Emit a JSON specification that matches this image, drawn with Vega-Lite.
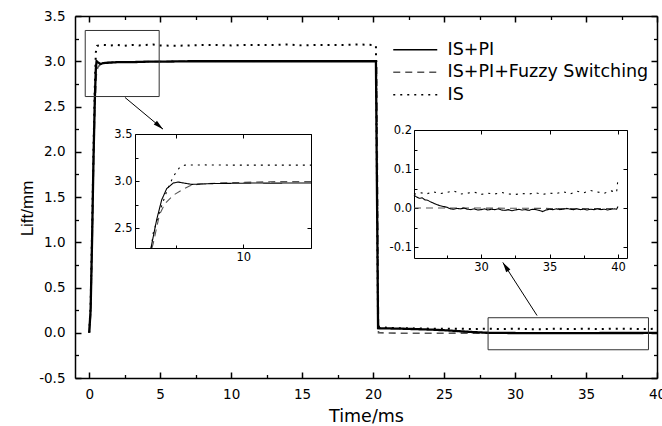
{
  "$schema": "https://vega.github.io/schema/vega-lite/v6.json",
  "width": 582,
  "height": 362,
  "autosize": {"type": "none"},
  "padding": {"left": 75, "top": 16, "right": 5, "bottom": 48},
  "background": "white",
  "config": {
    "view": {"stroke": null},
    "axis": {"grid": false, "domainColor": "#000", "tickColor": "#000", "labelColor": "#000", "titleColor": "#000", "labelFont": "DejaVu Sans", "titleFont": "DejaVu Sans", "titleFontWeight": "normal", "labelFlush": false, "labelOverlap": false}
  },
  "datasets": {
    "main": [
      {"t": 0, "lift": 0, "series": "IS"}, {"t": 0.1, "lift": 0.3, "series": "IS"}, {"t": 0.2, "lift": 1.1, "series": "IS"}, {"t": 0.3, "lift": 2.0, "series": "IS"}, {"t": 0.4, "lift": 2.75, "series": "IS"}, {"t": 0.47, "lift": 3.1, "series": "IS"}, {"t": 0.55, "lift": 3.17, "series": "IS"}, {"t": 1, "lift": 3.18, "series": "IS"}, {"t": 1.5, "lift": 3.175, "series": "IS"}, {"t": 2, "lift": 3.18, "series": "IS"}, {"t": 2.5, "lift": 3.17, "series": "IS"}, {"t": 3, "lift": 3.18, "series": "IS"}, {"t": 3.5, "lift": 3.175, "series": "IS"}, {"t": 4, "lift": 3.18, "series": "IS"}, {"t": 4.5, "lift": 3.185, "series": "IS"}, {"t": 5, "lift": 3.175, "series": "IS"}, {"t": 6, "lift": 3.17, "series": "IS"}, {"t": 7, "lift": 3.175, "series": "IS"}, {"t": 8, "lift": 3.18, "series": "IS"}, {"t": 9, "lift": 3.18, "series": "IS"}, {"t": 10, "lift": 3.175, "series": "IS"}, {"t": 11, "lift": 3.18, "series": "IS"}, {"t": 12, "lift": 3.18, "series": "IS"}, {"t": 13, "lift": 3.18, "series": "IS"}, {"t": 14, "lift": 3.185, "series": "IS"}, {"t": 15, "lift": 3.175, "series": "IS"}, {"t": 16, "lift": 3.18, "series": "IS"}, {"t": 17, "lift": 3.18, "series": "IS"}, {"t": 18, "lift": 3.18, "series": "IS"}, {"t": 19, "lift": 3.185, "series": "IS"}, {"t": 20, "lift": 3.18, "series": "IS"}, {"t": 20.2, "lift": 3.17, "series": "IS"}, {"t": 20.35, "lift": 0.07, "series": "IS"}, {"t": 21, "lift": 0.055, "series": "IS"}, {"t": 22, "lift": 0.05, "series": "IS"}, {"t": 23, "lift": 0.048, "series": "IS"}, {"t": 24, "lift": 0.045, "series": "IS"}, {"t": 25, "lift": 0.045, "series": "IS"}, {"t": 26, "lift": 0.045, "series": "IS"}, {"t": 27, "lift": 0.04, "series": "IS"}, {"t": 28, "lift": 0.045, "series": "IS"}, {"t": 29, "lift": 0.04, "series": "IS"}, {"t": 30, "lift": 0.045, "series": "IS"}, {"t": 31, "lift": 0.04, "series": "IS"}, {"t": 32, "lift": 0.04, "series": "IS"}, {"t": 33, "lift": 0.045, "series": "IS"}, {"t": 34, "lift": 0.04, "series": "IS"}, {"t": 35, "lift": 0.045, "series": "IS"}, {"t": 36, "lift": 0.04, "series": "IS"}, {"t": 37, "lift": 0.045, "series": "IS"}, {"t": 38, "lift": 0.045, "series": "IS"}, {"t": 39, "lift": 0.04, "series": "IS"}, {"t": 40, "lift": 0.045, "series": "IS"},
      {"t": 0, "lift": 0, "series": "IS+PI+Fuzzy Switching"}, {"t": 0.1, "lift": 0.2, "series": "IS+PI+Fuzzy Switching"}, {"t": 0.2, "lift": 0.9, "series": "IS+PI+Fuzzy Switching"}, {"t": 0.3, "lift": 1.8, "series": "IS+PI+Fuzzy Switching"}, {"t": 0.4, "lift": 2.5, "series": "IS+PI+Fuzzy Switching"}, {"t": 0.5, "lift": 2.85, "series": "IS+PI+Fuzzy Switching"}, {"t": 0.6, "lift": 2.93, "series": "IS+PI+Fuzzy Switching"}, {"t": 0.8, "lift": 2.97, "series": "IS+PI+Fuzzy Switching"}, {"t": 1.2, "lift": 2.985, "series": "IS+PI+Fuzzy Switching"}, {"t": 2, "lift": 2.99, "series": "IS+PI+Fuzzy Switching"}, {"t": 4, "lift": 2.995, "series": "IS+PI+Fuzzy Switching"}, {"t": 6, "lift": 3.0, "series": "IS+PI+Fuzzy Switching"}, {"t": 10, "lift": 3.0, "series": "IS+PI+Fuzzy Switching"}, {"t": 14, "lift": 3.0, "series": "IS+PI+Fuzzy Switching"}, {"t": 18, "lift": 3.0, "series": "IS+PI+Fuzzy Switching"}, {"t": 20.25, "lift": 3.0, "series": "IS+PI+Fuzzy Switching"}, {"t": 20.38, "lift": 0.0, "series": "IS+PI+Fuzzy Switching"}, {"t": 22, "lift": -0.005, "series": "IS+PI+Fuzzy Switching"}, {"t": 25, "lift": -0.005, "series": "IS+PI+Fuzzy Switching"}, {"t": 30, "lift": -0.003, "series": "IS+PI+Fuzzy Switching"}, {"t": 35, "lift": -0.003, "series": "IS+PI+Fuzzy Switching"}, {"t": 40, "lift": -0.003, "series": "IS+PI+Fuzzy Switching"},
      {"t": 0, "lift": 0, "series": "IS+PI"}, {"t": 0.1, "lift": 0.25, "series": "IS+PI"}, {"t": 0.2, "lift": 1.0, "series": "IS+PI"}, {"t": 0.3, "lift": 1.9, "series": "IS+PI"}, {"t": 0.4, "lift": 2.6, "series": "IS+PI"}, {"t": 0.47, "lift": 2.92, "series": "IS+PI"}, {"t": 0.52, "lift": 3.0, "series": "IS+PI"}, {"t": 0.6, "lift": 2.99, "series": "IS+PI"}, {"t": 0.8, "lift": 2.97, "series": "IS+PI"}, {"t": 1, "lift": 2.98, "series": "IS+PI"}, {"t": 1.5, "lift": 2.985, "series": "IS+PI"}, {"t": 2, "lift": 2.99, "series": "IS+PI"}, {"t": 3, "lift": 2.99, "series": "IS+PI"}, {"t": 4, "lift": 2.995, "series": "IS+PI"}, {"t": 5, "lift": 2.995, "series": "IS+PI"}, {"t": 7, "lift": 3.0, "series": "IS+PI"}, {"t": 9, "lift": 3.0, "series": "IS+PI"}, {"t": 11, "lift": 3.0, "series": "IS+PI"}, {"t": 13, "lift": 3.0, "series": "IS+PI"}, {"t": 15, "lift": 3.0, "series": "IS+PI"}, {"t": 17, "lift": 3.0, "series": "IS+PI"}, {"t": 19, "lift": 3.0, "series": "IS+PI"}, {"t": 20.2, "lift": 3.0, "series": "IS+PI"}, {"t": 20.35, "lift": 0.05, "series": "IS+PI"}, {"t": 21, "lift": 0.048, "series": "IS+PI"}, {"t": 22, "lift": 0.045, "series": "IS+PI"}, {"t": 23, "lift": 0.04, "series": "IS+PI"}, {"t": 24, "lift": 0.035, "series": "IS+PI"}, {"t": 25, "lift": 0.028, "series": "IS+PI"}, {"t": 26, "lift": 0.018, "series": "IS+PI"}, {"t": 27, "lift": 0.008, "series": "IS+PI"}, {"t": 28, "lift": 0.0, "series": "IS+PI"}, {"t": 29, "lift": -0.002, "series": "IS+PI"}, {"t": 30, "lift": -0.003, "series": "IS+PI"}, {"t": 32, "lift": -0.005, "series": "IS+PI"}, {"t": 34, "lift": -0.004, "series": "IS+PI"}, {"t": 36, "lift": -0.003, "series": "IS+PI"}, {"t": 38, "lift": -0.003, "series": "IS+PI"}, {"t": 40, "lift": -0.002, "series": "IS+PI"}
    ],
    "inset1": [
      {"t": 3.2, "v": 2.29, "series": "IS"}, {"t": 3.35, "v": 2.45, "series": "IS"}, {"t": 3.85, "v": 2.69, "series": "IS"}, {"t": 4.34, "v": 2.89, "series": "IS"}, {"t": 4.83, "v": 3.05, "series": "IS"}, {"t": 5.32, "v": 3.15, "series": "IS"}, {"t": 5.69, "v": 3.17, "series": "IS"}, {"t": 7, "v": 3.172, "series": "IS"}, {"t": 9, "v": 3.17, "series": "IS"}, {"t": 11, "v": 3.17, "series": "IS"}, {"t": 13, "v": 3.17, "series": "IS"}, {"t": 15, "v": 3.17, "series": "IS"},
      {"t": 3.25, "v": 2.29, "series": "IS+PI+Fuzzy Switching"}, {"t": 3.35, "v": 2.34, "series": "IS+PI+Fuzzy Switching"}, {"t": 3.8, "v": 2.64, "series": "IS+PI+Fuzzy Switching"}, {"t": 4.2, "v": 2.76, "series": "IS+PI+Fuzzy Switching"}, {"t": 4.83, "v": 2.85, "series": "IS+PI+Fuzzy Switching"}, {"t": 5.45, "v": 2.905, "series": "IS+PI+Fuzzy Switching"}, {"t": 6.06, "v": 2.95, "series": "IS+PI+Fuzzy Switching"}, {"t": 6.8, "v": 2.97, "series": "IS+PI+Fuzzy Switching"}, {"t": 8.28, "v": 2.98, "series": "IS+PI+Fuzzy Switching"}, {"t": 10.7, "v": 2.99, "series": "IS+PI+Fuzzy Switching"}, {"t": 12.5, "v": 2.995, "series": "IS+PI+Fuzzy Switching"}, {"t": 15, "v": 2.995, "series": "IS+PI+Fuzzy Switching"},
      {"t": 3.18, "v": 2.29, "series": "IS+PI"}, {"t": 3.6, "v": 2.59, "series": "IS+PI"}, {"t": 3.97, "v": 2.8, "series": "IS+PI"}, {"t": 4.34, "v": 2.92, "series": "IS+PI"}, {"t": 4.83, "v": 2.98, "series": "IS+PI"}, {"t": 5.2, "v": 2.99, "series": "IS+PI"}, {"t": 5.69, "v": 2.977, "series": "IS+PI"}, {"t": 6.19, "v": 2.965, "series": "IS+PI"}, {"t": 7.05, "v": 2.97, "series": "IS+PI"}, {"t": 8, "v": 2.975, "series": "IS+PI"}, {"t": 9.5, "v": 2.977, "series": "IS+PI"}, {"t": 11, "v": 2.98, "series": "IS+PI"}, {"t": 12, "v": 2.978, "series": "IS+PI"}, {"t": 13.5, "v": 2.98, "series": "IS+PI"}, {"t": 15, "v": 2.98, "series": "IS+PI"}
    ],
    "inset2": [
      {"t": 25.1, "v": 0.035, "series": "IS"}, {"t": 25.5, "v": 0.04, "series": "IS"}, {"t": 26.0, "v": 0.036, "series": "IS"}, {"t": 26.5, "v": 0.042, "series": "IS"}, {"t": 27.0, "v": 0.037, "series": "IS"}, {"t": 27.5, "v": 0.04, "series": "IS"}, {"t": 28.0, "v": 0.044, "series": "IS"}, {"t": 28.5, "v": 0.036, "series": "IS"}, {"t": 29.0, "v": 0.038, "series": "IS"}, {"t": 29.5, "v": 0.041, "series": "IS"}, {"t": 30.0, "v": 0.035, "series": "IS"}, {"t": 30.5, "v": 0.038, "series": "IS"}, {"t": 31.0, "v": 0.036, "series": "IS"}, {"t": 31.5, "v": 0.04, "series": "IS"}, {"t": 32.0, "v": 0.036, "series": "IS"}, {"t": 32.5, "v": 0.035, "series": "IS"}, {"t": 33.0, "v": 0.037, "series": "IS"}, {"t": 33.5, "v": 0.036, "series": "IS"}, {"t": 34.0, "v": 0.039, "series": "IS"}, {"t": 34.5, "v": 0.035, "series": "IS"}, {"t": 35.0, "v": 0.038, "series": "IS"}, {"t": 35.5, "v": 0.037, "series": "IS"}, {"t": 36.0, "v": 0.042, "series": "IS"}, {"t": 36.5, "v": 0.036, "series": "IS"}, {"t": 37.0, "v": 0.043, "series": "IS"}, {"t": 37.5, "v": 0.039, "series": "IS"}, {"t": 38.0, "v": 0.045, "series": "IS"}, {"t": 38.5, "v": 0.041, "series": "IS"}, {"t": 39.0, "v": 0.038, "series": "IS"}, {"t": 39.5, "v": 0.044, "series": "IS"}, {"t": 39.9, "v": 0.04, "series": "IS"}, {"t": 40.0, "v": 0.075, "series": "IS"},
      {"t": 25.1, "v": 0.0, "series": "IS+PI+Fuzzy Switching"}, {"t": 30, "v": 0.0, "series": "IS+PI+Fuzzy Switching"}, {"t": 35, "v": -0.001, "series": "IS+PI+Fuzzy Switching"}, {"t": 40, "v": -0.001, "series": "IS+PI+Fuzzy Switching"},
      {"t": 25.1, "v": 0.033, "series": "IS+PI"}, {"t": 25.3, "v": 0.028, "series": "IS+PI"}, {"t": 25.5, "v": 0.025, "series": "IS+PI"}, {"t": 25.7, "v": 0.026, "series": "IS+PI"}, {"t": 25.9, "v": 0.021, "series": "IS+PI"}, {"t": 26.1, "v": 0.02, "series": "IS+PI"}, {"t": 26.3, "v": 0.016, "series": "IS+PI"}, {"t": 26.5, "v": 0.013, "series": "IS+PI"}, {"t": 26.75, "v": 0.009, "series": "IS+PI"}, {"t": 27.0, "v": 0.006, "series": "IS+PI"}, {"t": 27.25, "v": 0.004, "series": "IS+PI"}, {"t": 27.5, "v": 0.002, "series": "IS+PI"}, {"t": 27.75, "v": -0.002, "series": "IS+PI"}, {"t": 28.0, "v": -0.003, "series": "IS+PI"}, {"t": 28.25, "v": -0.001, "series": "IS+PI"}, {"t": 28.5, "v": -0.002, "series": "IS+PI"}, {"t": 28.75, "v": 0.0, "series": "IS+PI"}, {"t": 29.0, "v": -0.003, "series": "IS+PI"}, {"t": 29.25, "v": -0.004, "series": "IS+PI"}, {"t": 29.5, "v": -0.002, "series": "IS+PI"}, {"t": 29.75, "v": -0.005, "series": "IS+PI"}, {"t": 30.0, "v": -0.004, "series": "IS+PI"}, {"t": 30.25, "v": -0.002, "series": "IS+PI"}, {"t": 30.5, "v": -0.005, "series": "IS+PI"}, {"t": 30.75, "v": -0.003, "series": "IS+PI"}, {"t": 31.0, "v": -0.004, "series": "IS+PI"}, {"t": 31.25, "v": -0.002, "series": "IS+PI"}, {"t": 31.5, "v": -0.005, "series": "IS+PI"}, {"t": 31.75, "v": -0.006, "series": "IS+PI"}, {"t": 32.0, "v": -0.004, "series": "IS+PI"}, {"t": 32.25, "v": -0.007, "series": "IS+PI"}, {"t": 32.5, "v": -0.005, "series": "IS+PI"}, {"t": 32.75, "v": -0.003, "series": "IS+PI"}, {"t": 33.0, "v": -0.005, "series": "IS+PI"}, {"t": 33.25, "v": -0.004, "series": "IS+PI"}, {"t": 33.5, "v": -0.006, "series": "IS+PI"}, {"t": 33.75, "v": -0.003, "series": "IS+PI"}, {"t": 34.0, "v": -0.004, "series": "IS+PI"}, {"t": 34.25, "v": -0.006, "series": "IS+PI"}, {"t": 34.5, "v": -0.009, "series": "IS+PI"}, {"t": 34.75, "v": -0.005, "series": "IS+PI"}, {"t": 35.0, "v": -0.003, "series": "IS+PI"}, {"t": 35.25, "v": -0.004, "series": "IS+PI"}, {"t": 35.5, "v": -0.002, "series": "IS+PI"}, {"t": 35.75, "v": -0.004, "series": "IS+PI"}, {"t": 36.0, "v": -0.003, "series": "IS+PI"}, {"t": 36.25, "v": -0.001, "series": "IS+PI"}, {"t": 36.5, "v": -0.003, "series": "IS+PI"}, {"t": 36.75, "v": -0.004, "series": "IS+PI"}, {"t": 37.0, "v": -0.002, "series": "IS+PI"}, {"t": 37.25, "v": -0.004, "series": "IS+PI"}, {"t": 37.5, "v": -0.003, "series": "IS+PI"}, {"t": 37.75, "v": -0.005, "series": "IS+PI"}, {"t": 38.0, "v": -0.003, "series": "IS+PI"}, {"t": 38.25, "v": -0.004, "series": "IS+PI"}, {"t": 38.5, "v": -0.002, "series": "IS+PI"}, {"t": 38.75, "v": -0.004, "series": "IS+PI"}, {"t": 39.0, "v": -0.003, "series": "IS+PI"}, {"t": 39.25, "v": -0.005, "series": "IS+PI"}, {"t": 39.5, "v": -0.003, "series": "IS+PI"}, {"t": 39.75, "v": -0.002, "series": "IS+PI"}, {"t": 39.9, "v": -0.003, "series": "IS+PI"}, {"t": 40.0, "v": 0.004, "series": "IS+PI"}
    ],
    "boxes": [
      {"t1": -0.28, "t2": 4.93, "v1": 2.61, "v2": 3.34},
      {"t1": 28.1, "t2": 39.4, "v1": -0.188, "v2": 0.166}
    ],
    "arrows": [
      {"name": "a1", "t0": 2.52, "v0": 2.6, "t1": 5.2, "v1": 2.25},
      {"name": "a2", "t0": 31.55, "v0": 0.19, "t1": 29.14, "v1": 0.777}
    ]
  },
  "resolve": {"scale": {"x": "independent", "y": "independent"}},
  "layer": [
    {
      "resolve": {"axis": {"x": "independent", "y": "independent"}},
      "layer": [
        {
          "data": {"name": "main"},
          "transform": [{"filter": "datum.series === 'IS'"}],
          "mark": {"type": "line", "strokeWidth": 2},
          "encoding": {
            "x": {"field": "t", "type": "quantitative", "scale": {"domain": [-1, 40], "nice": false, "zero": false},
                  "axis": {"orient": "bottom", "values": [0, 5, 10, 15, 20, 25, 30, 35, 40], "tickSize": -6, "tickWidth": 1.5, "domainWidth": 1.5, "labelPadding": 15, "labelFontSize": 13.5, "title": "Time/ms", "titleFontSize": 17.5, "titleX": 291, "titleY": 43, "titleBaseline": "alphabetic"}},
            "y": {"field": "lift", "type": "quantitative", "scale": {"domain": [-0.5, 3.5], "nice": false, "zero": false},
                  "axis": {"orient": "left", "values": [-0.5, 0, 0.5, 1, 1.5, 2, 2.5, 3, 3.5], "tickSize": -6, "tickWidth": 1.5, "domainWidth": 1.5, "labelPadding": 16, "labelFontSize": 13.5, "labelExpr": "datum.value < 0 ? '-' + format(-datum.value, '.1f') : format(datum.value, '.1f')", "title": "Lift/mm", "titleFont": "Liberation Sans", "titleFontSize": 17, "titleX": -43, "titleY": 192, "titleAngle": -90, "titleBaseline": "alphabetic"}},
            "color": {"field": "series", "type": "nominal", "scale": {"domain": ["IS+PI", "IS+PI+Fuzzy Switching", "IS"], "range": ["#000000", "#555555", "#000000"]},
                      "legend": {"title": null, "orient": "none", "legendX": 331.5, "legendY": 25, "padding": 0, "symbolType": "M-4,0H4", "symbolSize": 121, "symbolStrokeWidth": 1.6, "labelFontSize": 17.5, "labelFont": "DejaVu Sans", "labelColor": "#000", "labelOffset": 23.5, "labelLimit": 0, "rowPadding": 3.5}},
            "strokeDash": {"field": "series", "type": "nominal", "scale": {"domain": ["IS+PI", "IS+PI+Fuzzy Switching", "IS"], "range": [[1, 0], [7, 5], [2, 5]]},
                      "legend": {"title": null, "orient": "none", "legendX": 331.5, "legendY": 25, "padding": 0, "symbolType": "M-4,0H4", "symbolSize": 121, "symbolStrokeWidth": 1.6, "labelFontSize": 17.5, "labelFont": "DejaVu Sans", "labelColor": "#000", "labelOffset": 23.5, "labelLimit": 0, "rowPadding": 3.5}}
          }
        },
        {
          "data": {"name": "main"},
          "transform": [{"filter": "datum.series === 'IS+PI+Fuzzy Switching'"}],
          "mark": {"type": "line", "strokeWidth": 1.6},
          "encoding": {
            "x": {"field": "t", "type": "quantitative", "scale": {"domain": [-1, 40], "nice": false, "zero": false}, "axis": null},
            "y": {"field": "lift", "type": "quantitative", "scale": {"domain": [-0.5, 3.5], "nice": false, "zero": false}, "axis": null},
            "color": {"field": "series", "type": "nominal", "scale": {"domain": ["IS+PI", "IS+PI+Fuzzy Switching", "IS"], "range": ["#000000", "#555555", "#000000"]}, "legend": null},
            "strokeDash": {"field": "series", "type": "nominal", "scale": {"domain": ["IS+PI", "IS+PI+Fuzzy Switching", "IS"], "range": [[1, 0], [7, 5], [2, 5]]}, "legend": null}
          }
        },
        {
          "data": {"name": "main"},
          "transform": [{"filter": "datum.series === 'IS+PI'"}],
          "mark": {"type": "line", "strokeWidth": 2.3},
          "encoding": {
            "x": {"field": "t", "type": "quantitative", "scale": {"domain": [-1, 40], "nice": false, "zero": false}, "axis": null},
            "y": {"field": "lift", "type": "quantitative", "scale": {"domain": [-0.5, 3.5], "nice": false, "zero": false}, "axis": null},
            "color": {"field": "series", "type": "nominal", "scale": {"domain": ["IS+PI", "IS+PI+Fuzzy Switching", "IS"], "range": ["#000000", "#555555", "#000000"]}, "legend": null},
            "strokeDash": {"field": "series", "type": "nominal", "scale": {"domain": ["IS+PI", "IS+PI+Fuzzy Switching", "IS"], "range": [[1, 0], [7, 5], [2, 5]]}, "legend": null}
          }
        },
        {
          "data": {"name": "boxes"},
          "mark": {"type": "rect", "fillOpacity": 0, "stroke": "#333", "strokeWidth": 1},
          "encoding": {
            "x": {"field": "t1", "type": "quantitative", "scale": {"domain": [-1, 40], "nice": false, "zero": false}, "axis": null},
            "x2": {"field": "t2"},
            "y": {"field": "v1", "type": "quantitative", "scale": {"domain": [-0.5, 3.5], "nice": false, "zero": false}, "axis": null},
            "y2": {"field": "v2"}
          }
        },
        {
          "data": {"name": "arrows"},
          "mark": {"type": "rule", "color": "#000", "strokeWidth": 1},
          "encoding": {
            "x": {"field": "t0", "type": "quantitative", "scale": {"domain": [-1, 40], "nice": false, "zero": false}, "axis": null},
            "x2": {"field": "t1"},
            "y": {"field": "v0", "type": "quantitative", "scale": {"domain": [-0.5, 3.5], "nice": false, "zero": false}, "axis": null},
            "y2": {"field": "v1"}
          }
        },
        {
          "data": {"name": "arrows"},
          "transform": [{"filter": "datum.name === 'a1'"}],
          "mark": {"type": "point", "shape": "M0,0L0.5,2L-0.5,2Z", "angle": 130, "size": 100, "filled": true, "color": "#000", "opacity": 1},
          "encoding": {
            "x": {"field": "t1", "type": "quantitative", "scale": {"domain": [-1, 40], "nice": false, "zero": false}, "axis": null},
            "y": {"field": "v1", "type": "quantitative", "scale": {"domain": [-0.5, 3.5], "nice": false, "zero": false}, "axis": null}
          }
        },
        {
          "data": {"name": "arrows"},
          "transform": [{"filter": "datum.name === 'a2'"}],
          "mark": {"type": "point", "shape": "M0,0L0.5,2L-0.5,2Z", "angle": 327, "size": 100, "filled": true, "color": "#000", "opacity": 1},
          "encoding": {
            "x": {"field": "t1", "type": "quantitative", "scale": {"domain": [-1, 40], "nice": false, "zero": false}, "axis": null},
            "y": {"field": "v1", "type": "quantitative", "scale": {"domain": [-0.5, 3.5], "nice": false, "zero": false}, "axis": null}
          }
        },
        {
          "data": {"name": "boxes"},
          "mark": {"type": "point", "opacity": 0, "size": 1},
          "encoding": {
            "x": {"field": "t1", "type": "quantitative", "scale": {"domain": [-1, 40], "nice": false, "zero": false},
                  "axis": {"orient": "top", "values": [0, 5, 10, 15, 20, 25, 30, 35, 40], "labels": false, "tickSize": -6, "tickWidth": 1.5, "domainWidth": 1.5, "title": null}},
            "y": {"field": "v1", "type": "quantitative", "scale": {"domain": [-0.5, 3.5], "nice": false, "zero": false},
                  "axis": {"orient": "right", "values": [-0.5, 0, 0.5, 1, 1.5, 2, 2.5, 3, 3.5], "labels": false, "tickSize": -6, "tickWidth": 1.5, "domainWidth": 1.5, "title": null}}
          }
        },
        {
          "data": {"name": "boxes"},
          "mark": {"type": "point", "opacity": 0, "size": 1},
          "encoding": {
            "x": {"field": "t1", "type": "quantitative", "scale": {"domain": [-1, 40], "nice": false, "zero": false},
                  "axis": {"orient": "bottom", "values": [2.5, 7.5, 12.5, 17.5, 22.5, 27.5, 32.5, 37.5], "labels": false, "domain": false, "tickSize": -3.5, "tickWidth": 1.3, "title": null}},
            "y": {"field": "v1", "type": "quantitative", "scale": {"domain": [-0.5, 3.5], "nice": false, "zero": false},
                  "axis": {"orient": "left", "values": [-0.25, 0.25, 0.75, 1.25, 1.75, 2.25, 2.75, 3.25], "labels": false, "domain": false, "tickSize": -3.5, "tickWidth": 1.3, "title": null}}
          }
        },
        {
          "data": {"name": "boxes"},
          "mark": {"type": "point", "opacity": 0, "size": 1},
          "encoding": {
            "x": {"field": "t1", "type": "quantitative", "scale": {"domain": [-1, 40], "nice": false, "zero": false},
                  "axis": {"orient": "top", "values": [2.5, 7.5, 12.5, 17.5, 22.5, 27.5, 32.5, 37.5], "labels": false, "domain": false, "tickSize": -3.5, "tickWidth": 1.3, "title": null}},
            "y": {"field": "v1", "type": "quantitative", "scale": {"domain": [-0.5, 3.5], "nice": false, "zero": false},
                  "axis": {"orient": "right", "values": [-0.25, 0.25, 0.75, 1.25, 1.75, 2.25, 2.75, 3.25], "labels": false, "domain": false, "tickSize": -3.5, "tickWidth": 1.3, "title": null}}
          }
        }
      ]
    },
    {
      "resolve": {"axis": {"x": "independent", "y": "independent"}},
      "layer": [
        {
          "data": {"name": "inset1"},
          "mark": {"type": "line", "strokeWidth": 1.1},
          "encoding": {
            "x": {"field": "t", "type": "quantitative", "scale": {"domain": [2, 15], "range": [60, 236], "nice": false, "zero": false},
                  "axis": {"orient": "bottom", "offset": -130, "values": [10], "tickSize": -4, "tickWidth": 1, "domainWidth": 1, "labelPadding": 7, "labelFontSize": 11.5, "title": null}},
            "y": {"field": "v", "type": "quantitative", "scale": {"domain": [2.29, 3.5], "range": [232, 118], "nice": false, "zero": false},
                  "axis": {"orient": "left", "offset": -60, "values": [2.5, 3, 3.5], "format": ".1f", "tickSize": -4, "tickWidth": 1, "domainWidth": 1, "labelPadding": 7, "labelFontSize": 11.5, "title": null}},
            "color": {"field": "series", "type": "nominal", "scale": {"domain": ["IS+PI", "IS+PI+Fuzzy Switching", "IS"], "range": ["#000000", "#555555", "#000000"]}, "legend": null},
            "strokeDash": {"field": "series", "type": "nominal", "scale": {"domain": ["IS+PI", "IS+PI+Fuzzy Switching", "IS"], "range": [[1, 0], [7, 5], [2, 5]]}, "legend": null}
          }
        },
        {
          "data": {"name": "inset1"},
          "mark": {"type": "point", "opacity": 0, "size": 1},
          "encoding": {
            "x": {"field": "t", "type": "quantitative", "scale": {"domain": [2, 15], "range": [60, 236], "nice": false, "zero": false},
                  "axis": {"orient": "top", "offset": -118, "values": [5, 10, 15], "labels": false, "tickSize": -4, "tickWidth": 1, "domainWidth": 1, "title": null}},
            "y": {"field": "v", "type": "quantitative", "scale": {"domain": [2.29, 3.5], "range": [232, 118], "nice": false, "zero": false},
                  "axis": {"orient": "right", "offset": -346, "values": [2.5, 3, 3.5], "labels": false, "tickSize": -4, "tickWidth": 1, "domainWidth": 1, "title": null}}
          }
        },
        {
          "data": {"name": "inset1"},
          "mark": {"type": "point", "opacity": 0, "size": 1},
          "encoding": {
            "x": {"field": "t", "type": "quantitative", "scale": {"domain": [2, 15], "range": [60, 236], "nice": false, "zero": false},
                  "axis": {"orient": "bottom", "offset": -130, "values": [5, 15], "labels": false, "domain": false, "tickSize": -3, "tickWidth": 1, "title": null}},
            "y": {"field": "v", "type": "quantitative", "scale": {"domain": [2.29, 3.5], "range": [232, 118], "nice": false, "zero": false},
                  "axis": {"orient": "left", "offset": -60, "values": [2.75, 3.25], "labels": false, "domain": false, "tickSize": -3, "tickWidth": 1, "title": null}}
          }
        }
      ]
    },
    {
      "resolve": {"axis": {"x": "independent", "y": "independent"}},
      "layer": [
        {
          "data": {"name": "inset2"},
          "mark": {"type": "line", "strokeWidth": 1.1},
          "encoding": {
            "x": {"field": "t", "type": "quantitative", "scale": {"domain": [25.1, 40.66], "range": [339, 552], "nice": false, "zero": false},
                  "axis": {"orient": "bottom", "offset": -120, "values": [30, 35, 40], "tickSize": -4, "tickWidth": 1, "domainWidth": 1, "labelPadding": 7, "labelFontSize": 11.5, "title": null}},
            "y": {"field": "v", "type": "quantitative", "scale": {"domain": [-0.128, 0.2], "range": [242, 114], "nice": false, "zero": false},
                  "axis": {"orient": "left", "offset": -339, "values": [-0.1, 0, 0.1, 0.2], "labelExpr": "datum.value < 0 ? '-' + format(-datum.value, '.1f') : format(datum.value, '.1f')", "tickSize": -4, "tickWidth": 1, "domainWidth": 1, "labelPadding": 6.5, "labelFontSize": 11.5, "title": null}},
            "color": {"field": "series", "type": "nominal", "scale": {"domain": ["IS+PI", "IS+PI+Fuzzy Switching", "IS"], "range": ["#000000", "#555555", "#000000"]}, "legend": null},
            "strokeDash": {"field": "series", "type": "nominal", "scale": {"domain": ["IS+PI", "IS+PI+Fuzzy Switching", "IS"], "range": [[1, 0], [7, 5], [2, 5]]}, "legend": null}
          }
        },
        {
          "data": {"name": "inset2"},
          "mark": {"type": "point", "opacity": 0, "size": 1},
          "encoding": {
            "x": {"field": "t", "type": "quantitative", "scale": {"domain": [25.1, 40.66], "range": [339, 552], "nice": false, "zero": false},
                  "axis": {"orient": "top", "offset": -114, "values": [30, 35, 40], "labels": false, "tickSize": -4, "tickWidth": 1, "domainWidth": 1, "title": null}},
            "y": {"field": "v", "type": "quantitative", "scale": {"domain": [-0.128, 0.2], "range": [242, 114], "nice": false, "zero": false},
                  "axis": {"orient": "right", "offset": -30, "values": [-0.1, 0, 0.1, 0.2], "labels": false, "tickSize": -4, "tickWidth": 1, "domainWidth": 1, "title": null}}
          }
        },
        {
          "data": {"name": "inset2"},
          "mark": {"type": "point", "opacity": 0, "size": 1},
          "encoding": {
            "x": {"field": "t", "type": "quantitative", "scale": {"domain": [25.1, 40.66], "range": [339, 552], "nice": false, "zero": false},
                  "axis": {"orient": "bottom", "offset": -120, "values": [27.5, 32.5, 37.5], "labels": false, "domain": false, "tickSize": -3, "tickWidth": 1, "title": null}},
            "y": {"field": "v", "type": "quantitative", "scale": {"domain": [-0.128, 0.2], "range": [242, 114], "nice": false, "zero": false},
                  "axis": {"orient": "left", "offset": -339, "values": [-0.05, 0.05, 0.15], "labels": false, "domain": false, "tickSize": -3, "tickWidth": 1, "title": null}}
          }
        }
      ]
    }
  ]
}
